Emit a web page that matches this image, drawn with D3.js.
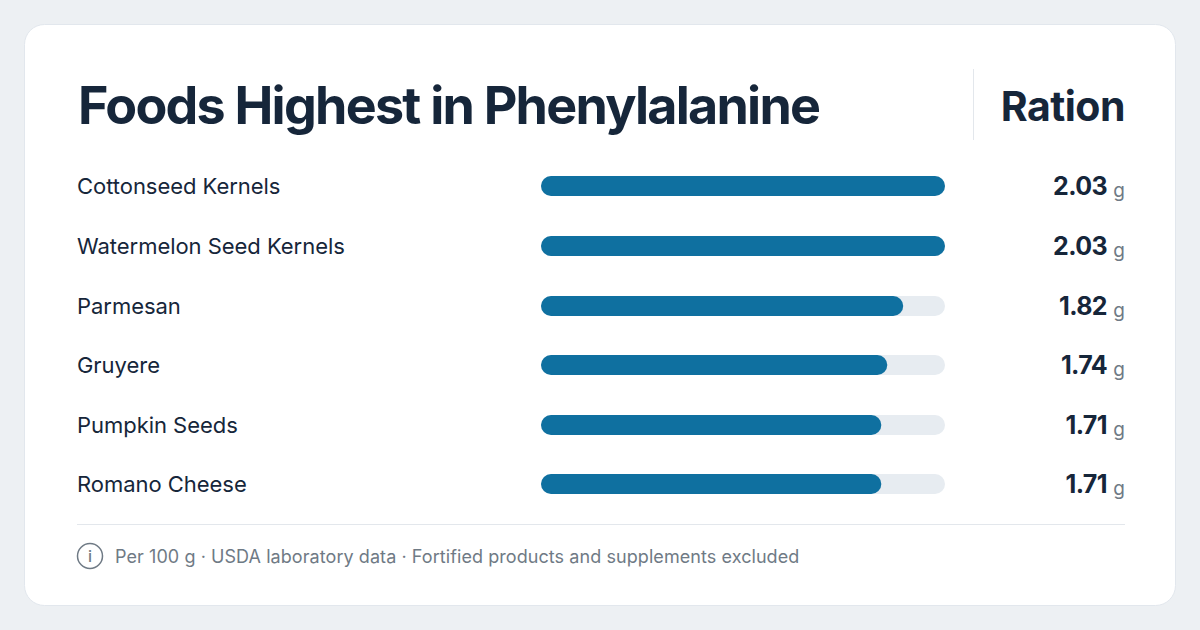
<!DOCTYPE html>
<html><head><meta charset="utf-8">
<script src="https://cdn.jsdelivr.net/npm/d3@7"></script>
<style>
html,body{margin:0;padding:0;background:#edf0f3;}
svg{display:block;font-family:Inter,"Noto Sans",sans-serif;}
</style></head><body>
<svg id="c" width="1200" height="630"></svg>
<script>
const titleText = "Foods Highest in Phenylalanine";
const columnLabel = "Ration";
const categories = ["Cottonseed Kernels","Watermelon Seed Kernels","Parmesan","Gruyere","Pumpkin Seeds","Romano Cheese"];
const values = [2.03,2.03,1.82,1.74,1.71,1.71];
const unit = "g";
const footnote = "Per 100 g · USDA laboratory data · Fortified products and supplements excluded";

const ink="#16263a", grey="#6f7a85", blue="#0f70a0", track="#e7ecf1", rule="#e3e7ec";
const svg=d3.select("#c");
svg.append("rect").attr("x",24.5).attr("y",24.5).attr("width",1151).attr("height",581).attr("rx",20)
  .attr("fill","#fff").attr("stroke","#e2e7ed");
svg.append("text").attr("x",78).attr("y",124).attr("font-size",52).attr("font-weight",700)
  .attr("letter-spacing",-1.75).attr("fill",ink).text(titleText);
svg.append("line").attr("x1",973.5).attr("x2",973.5).attr("y1",69).attr("y2",140).attr("stroke",rule);
svg.append("text").attr("x",1125).attr("y",120.5).attr("text-anchor","end").attr("font-size",41).attr("font-weight",700)
  .attr("letter-spacing",-0.5).attr("fill",ink).text(columnLabel);

const x=d3.scaleLinear().domain([0,d3.max(values)]).range([541,945]);
const y=d3.scaleBand().domain(categories).range([156.5,514.1]).paddingInner(0).paddingOuter(0);
const rows=svg.selectAll("g.row").data(categories.map((c,i)=>({c,v:values[i]}))).join("g").attr("class","row")
  .attr("transform",d=>`translate(0,${Math.round(y(d.c)+y.bandwidth()/2)})`);
rows.append("text").attr("x",77).attr("y",8).attr("font-size",22).attr("font-weight",400).attr("letter-spacing",-0.04).attr("fill",ink).text(d=>d.c);
rows.append("rect").attr("x",x(0)).attr("y",-10).attr("height",20).attr("width",x.range()[1]-x(0)).attr("rx",10).attr("fill",track);
rows.append("rect").attr("x",x(0)).attr("y",-10).attr("height",20).attr("width",d=>x(d.v)-x(0)).attr("rx",10).attr("fill",blue);
rows.append("text").attr("x",1107).attr("y",9).attr("text-anchor","end").attr("font-size",25).attr("font-weight",700).attr("letter-spacing",-0.6).attr("fill",ink).text(d=>d.v.toFixed(2));
rows.append("text").attr("x",1125).attr("y",11).attr("text-anchor","end").attr("font-size",19).attr("fill",grey).text(unit);

svg.append("line").attr("x1",77).attr("x2",1125).attr("y1",524.5).attr("y2",524.5).attr("stroke",rule);
svg.append("circle").attr("cx",90).attr("cy",556).attr("r",12.5).attr("fill","none").attr("stroke",grey).attr("stroke-width",1.5);
svg.append("text").attr("x",90).attr("y",562).attr("text-anchor","middle").attr("font-size",16).attr("font-weight",500).attr("fill",grey).text("i");
svg.append("text").attr("x",115).attr("y",563).attr("font-size",18).attr("fill",grey).attr("letter-spacing",0.07).text(footnote);
</script></body></html>
